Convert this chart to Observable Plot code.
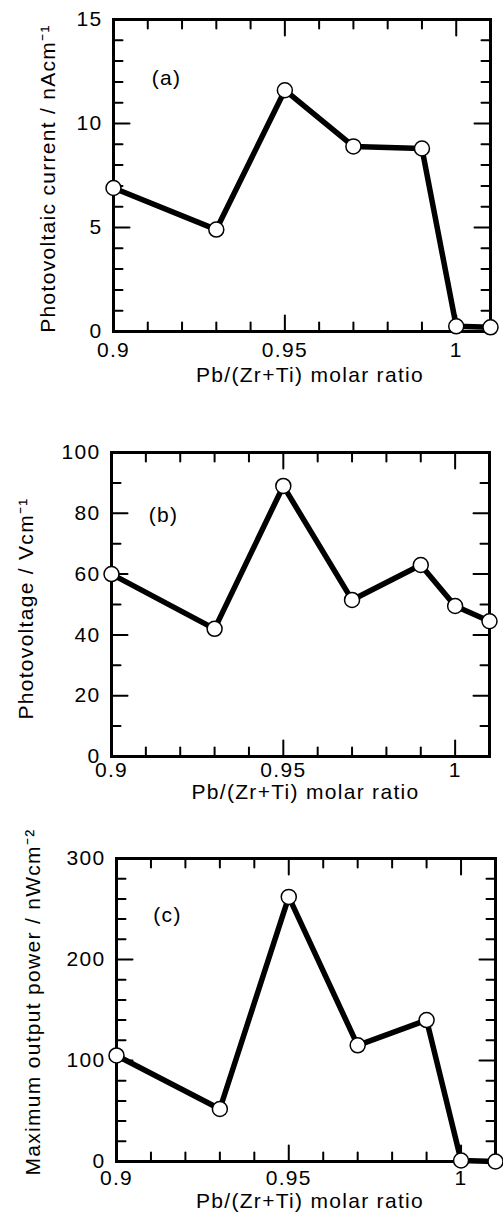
<!DOCTYPE html>
<html><head><meta charset="utf-8">
<script src="https://cdn.jsdelivr.net/npm/d3@7"></script>
<script src="https://cdn.jsdelivr.net/npm/@observablehq/plot@0.6"></script>
<style>
body{margin:0;background:#fff;}
#chart svg{display:block;}
</style></head><body><div id="chart"></div>
<script>
// ---- data ----
const ratio = [0.9, 0.93, 0.95, 0.97, 0.99, 1.0, 1.01];
const photocurrent = [6.9, 4.9, 11.6, 8.9, 8.8, 0.25, 0.2];     // nA cm^-1
const photovoltage = [60, 42, 89, 51.5, 63, 49.5, 44.5];        // V cm^-1
const outputPower = [105, 52, 262, 115, 140, 1, 0];             // nW cm^-2
const panelLetters = ["(a)", "(b)", "(c)"];
const yLabels = ["Photovoltaic current / nAcm\u207B\u00B9", "Photovoltage / Vcm\u207B\u00B9", "Maximum output power / nWcm\u207B\u00B2"];
const xLabel = "Pb/(Zr+Ti) molar ratio";
const xMajorTicks = [0.9, 0.95, 1];
const xMinorTicks = [0.91, 0.92, 0.93, 0.94, 0.96, 0.97, 0.98, 0.99];
const yDomains = [[0, 15], [0, 100], [0, 300]];
const yMajorTicks = [[0, 5, 10, 15], [0, 20, 40, 60, 80, 100], [0, 100, 200, 300]];
const yMinorTicks = [
  [1, 2, 3, 4, 6, 7, 8, 9, 11, 12, 13, 14],
  [10, 30, 50, 70, 90],
  [20, 40, 60, 80, 120, 140, 160, 180, 220, 240, 260, 280]
];

// ---- layout ----
const W = 503;
const layouts = [
  {height: 400, mt: 19, mb: 69, ml: 113, mr: 13, pad: 11, letterDx: 53, letterDy: 51, yDx: -65, yDy: 3, xDx: 8, xDy: 50},
  {height: 400, mt: 52, mb: 44, ml: 111, mr: 14, pad: 6, letterDx: 52, letterDy: 55, yDx: -85, yDy: 4, xDx: 5, xDy: 42},
  {height: 416, mt: 58, mb: 55, ml: 116, mr: 8, pad: 9, letterDx: 51, letterDy: 49, yDx: -83, yDy: -8, xDx: 4, xDy: 46}
];
const series = [photocurrent, photovoltage, outputPower];
const FONT = "'Liberation Sans', Arial, Helvetica, sans-serif";
// a plain straight tick shape for Plot.vector
const tickShape = {draw(context, l) { context.moveTo(0, 0); context.lineTo(0, -l); }};

function panel(i) {
  const L = layouts[i];
  const data = ratio.map((x, j) => ({x, y: series[i][j]}));
  const majorLen = 16, minorLen = 9;
  const tk = {stroke: "black", strokeWidth: 2, anchor: "start", shape: tickShape};
  const side = (ticks, ch, frameAnchor, rotate, length) =>
    Plot.vector(ticks, {[ch]: d => d, frameAnchor, rotate, length, ...tk});
  return Plot.plot({
    width: W, height: L.height,
    marginTop: L.mt, marginBottom: L.mb, marginLeft: L.ml, marginRight: L.mr,
    style: {fontFamily: FONT, fontSize: "21px", color: "black", background: "white", overflow: "visible", letterSpacing: "1.3px"},
    x: {domain: [0.9, 1.01]},
    y: {domain: yDomains[i]},
    marks: [
      // inward ticks on all four sides
      side(xMajorTicks, "x", "bottom", 0, majorLen),
      side(xMinorTicks, "x", "bottom", 0, minorLen),
      side(xMajorTicks, "x", "top", 180, majorLen),
      side(xMinorTicks, "x", "top", 180, minorLen),
      side(yMajorTicks[i], "y", "left", 90, majorLen),
      side(yMinorTicks[i], "y", "left", 90, minorLen),
      side(yMajorTicks[i], "y", "right", -90, majorLen),
      side(yMinorTicks[i], "y", "right", -90, minorLen),
      // tick labels
      Plot.axisX(xMajorTicks, {anchor: "bottom", tickSize: 0, tickPadding: L.pad, label: null, tickFormat: d => String(d)}),
      Plot.axisY(yMajorTicks[i], {anchor: "left", tickSize: 0, tickPadding: 11, label: null, tickFormat: d => String(d)}),
      Plot.frame({stroke: "black", strokeWidth: 3}),
      Plot.line(data, {x: "x", y: "y", stroke: "black", strokeWidth: 5.5, strokeLinejoin: "round"}),
      Plot.dot(data, {x: "x", y: "y", r: 7.5, fill: "white", stroke: "black", strokeWidth: 1.5}),
      Plot.text([panelLetters[i]], {frameAnchor: "top-left", textAnchor: "middle", dx: L.letterDx, dy: L.letterDy, fontSize: 21}),
      Plot.text([yLabels[i]], {frameAnchor: "left", rotate: -90, textAnchor: "middle", dx: L.yDx, dy: L.yDy, fontSize: 21}),
      Plot.text([xLabel], {frameAnchor: "bottom", textAnchor: "middle", dx: L.xDx, dy: L.xDy, fontSize: 21})
    ]
  });
}

const chart = document.getElementById("chart");
for (let i = 0; i < 3; i++) chart.append(panel(i));
</script>
</body></html>
